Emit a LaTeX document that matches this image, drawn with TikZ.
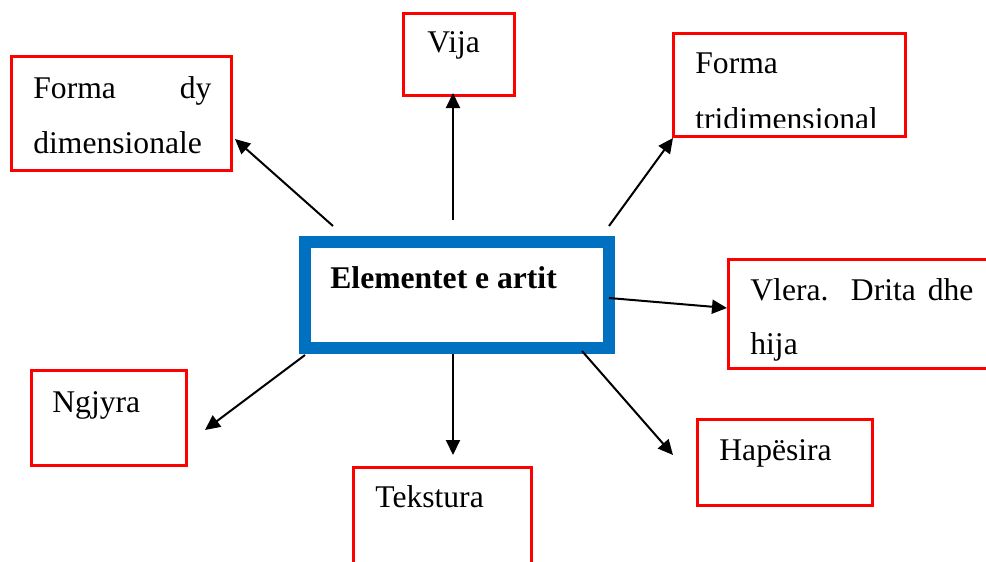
\documentclass[tikz,border=0pt]{standalone}
\usepackage{fontspec}
\setmainfont{Liberation Serif}
\usetikzlibrary{arrows.meta}
\definecolor{boxred}{RGB}{255,0,0}
\definecolor{boxblue}{RGB}{0,112,192}
\begin{document}
\begin{tikzpicture}[x=0.5pt,y=-0.5pt,
  rbox/.style={draw=boxred,line width=1.9pt,rectangle,inner sep=0pt},
  cbox/.style={draw=boxblue,line width=6pt,rectangle,inner sep=0pt},
  txt/.style={inner sep=0pt,anchor=base west,font=\fontsize{15.8}{20}\selectfont},
  arr/.style={draw=black,line width=1pt,-{Triangle[length=7.5pt,width=7pt]}}]
\useasboundingbox (0,0) rectangle (986,562);
% boxes
\node[cbox,minimum width=152pt,minimum height=53pt] (center) at (457,295) {};
\node[rbox,minimum width=110pt,minimum height=57pt] (dy) at (121.5,113.5) {};
\node[rbox,minimum width=55.5pt,minimum height=41pt] (vija) at (459,54.5) {};
\node[rbox,minimum width=116pt,minimum height=51.5pt] (tri) at (789.5,85) {};
\node[rbox,minimum width=133.25pt,minimum height=54.5pt] (vlera) at (861.75,314) {};
\node[rbox,minimum width=87.5pt,minimum height=43pt] (hap) at (785,462.5) {};
\node[rbox,minimum width=77.5pt,minimum height=47.5pt] (ngj) at (109,418) {};
\node[rbox,minimum width=89pt,minimum height=66.25pt] (tek) at (442.5,533.75) {};
% texts
\node[txt,font=\fontsize{15.8}{20}\selectfont\bfseries] (centert) at (330,288) {Elementet e artit};
\node[txt] (dyt1) at (33,98) {\makebox[89pt][s]{Forma dy}};
\node[txt] (dyt2) at (33,153) {dimensionale};
\node[txt] (vijat) at (427,53) {Vija};
\node[txt] (trit1) at (695,73) {Forma};
\begin{scope}
\clip (673.5,33.5) rectangle (905.5,127);
\node[txt] (trit2) at (695,129) {tridimensional};
\end{scope}
\node[txt] (vlerat1) at (750,300) {\makebox[111.5pt][s]{Vlera. Drita dhe}};
\node[txt] (vlerat2) at (750,354) {hija};
\node[txt] (hapt) at (719,460) {Hapësira};
\node[txt] (ngjt) at (52,412) {Ngjyra};
\node[txt] (tekt) at (375,507) {Tekstura};
% connector ends
\coordinate (s1) at (333,226); \coordinate (e1) at (235,139);
\coordinate (s2) at (453,220); \coordinate (e2) at (453,93);
\coordinate (s3) at (609,226); \coordinate (e3) at (673,138);
\coordinate (s4) at (609,298); \coordinate (e4) at (727,308);
\coordinate (s5) at (582,351); \coordinate (e5) at (673,455);
\coordinate (s6) at (453,354); \coordinate (e6) at (453,455);
\coordinate (s7) at (305,355); \coordinate (e7) at (205,430);
\draw[arr] (s1) -- (e1);
\draw[arr] (s2) -- (e2);
\draw[arr] (s3) -- (e3);
\draw[arr] (s4) -- (e4);
\draw[arr] (s5) -- (e5);
\draw[arr] (s6) -- (e6);
\draw[arr] (s7) -- (e7);
\end{tikzpicture}
\end{document}
